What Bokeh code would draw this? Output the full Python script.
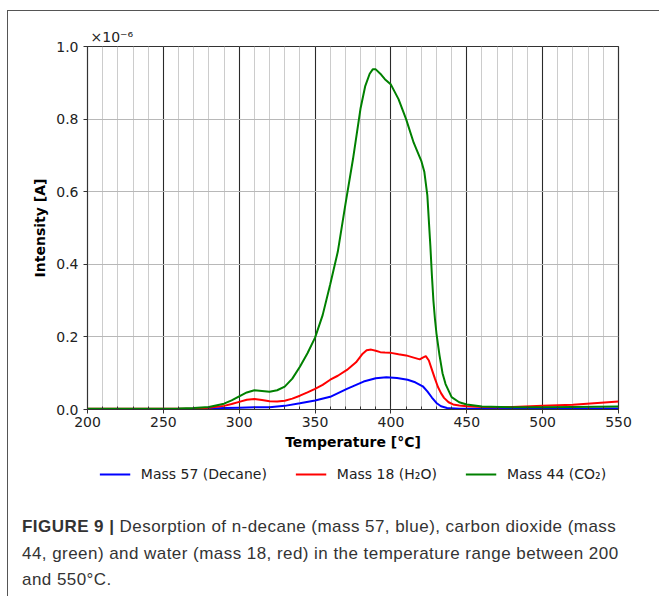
from bokeh.plotting import figure
from bokeh.models import (Legend, LegendItem, FixedTicker, Range1d,
                          NumeralTickFormatter, Div)
from bokeh.layouts import column
from bokeh.embed import file_html
from bokeh.resources import INLINE

# ---- data (intensity in units of 1e-6 A) ----
t_decane = [200, 260, 280, 290, 300, 310, 320, 330, 340, 350, 360, 371, 382, 390,
            397, 404, 411, 416, 421, 424, 427, 430, 433, 437, 445, 460, 500, 550]
i_decane = [0.001, 0.001, 0.002, 0.004, 0.005, 0.006, 0.006, 0.010, 0.017, 0.025,
            0.035, 0.057, 0.077, 0.086, 0.089, 0.087, 0.082, 0.075, 0.064, 0.050,
            0.033, 0.018, 0.009, 0.004, 0.002, 0.002, 0.002, 0.003]

t_water = [200, 240, 260, 270, 280, 290, 295, 300, 305, 310, 315, 320, 325, 330,
           335, 340, 345, 350, 355, 360, 365, 371, 377, 381, 384, 387, 390, 393,
           396, 400, 405, 410, 415, 419, 421, 423, 425, 427, 429, 431, 433, 435,
           438, 441, 445, 450, 460, 470, 480, 500, 520, 550]
i_water = [0.002, 0.002, 0.002, 0.003, 0.005, 0.010, 0.015, 0.021, 0.027, 0.029,
           0.026, 0.023, 0.022, 0.024, 0.030, 0.038, 0.047, 0.057, 0.068, 0.082,
           0.093, 0.109, 0.130, 0.152, 0.163, 0.165, 0.162, 0.158, 0.157, 0.156,
           0.152, 0.149, 0.143, 0.138, 0.143, 0.147, 0.135, 0.110, 0.085, 0.062,
           0.045, 0.032, 0.020, 0.014, 0.011, 0.009, 0.007, 0.006, 0.007, 0.010,
           0.013, 0.022]

t_co2 = [200, 220, 240, 260, 270, 280, 290, 295, 300, 305, 310, 315, 320, 325,
         330, 335, 340, 345, 350, 355, 360, 365, 370, 375, 380, 383, 386, 388,
         390, 393, 396, 400, 405, 410, 415, 418, 420, 422, 424, 426, 427, 428,
         429, 430, 432, 434, 436, 440, 445, 450, 460, 480, 500, 520, 550]
i_co2 = [0.002, 0.002, 0.002, 0.003, 0.004, 0.007, 0.016, 0.025, 0.036, 0.047,
         0.053, 0.051, 0.049, 0.053, 0.063, 0.085, 0.118, 0.155, 0.198, 0.260,
         0.345, 0.435, 0.565, 0.690, 0.830, 0.890, 0.925, 0.937, 0.937, 0.925,
         0.910, 0.895, 0.855, 0.800, 0.735, 0.705, 0.685, 0.655, 0.590, 0.450,
         0.370, 0.300, 0.250, 0.210, 0.150, 0.100, 0.070, 0.034, 0.020, 0.014,
         0.008, 0.006, 0.006, 0.007, 0.008]

series_t = [t_decane, t_water, t_co2]
series_i = [i_decane, i_water, i_co2]
series_labels = ["Mass 57 (Decane)", "Mass 18 (H\u2082O)", "Mass 44 (CO\u2082)"]
series_colors = ["#0000ff", "#ff0000", "#008000"]

x_major = [200, 250, 300, 350, 400, 450, 500, 550]
x_minor = list(range(200, 551, 10))
y_major = [0.0, 0.2, 0.4, 0.6, 0.8, 1.0]

x_title = "Temperature [\u00b0C]"
y_title = "Intensity [A]"
multiplier = "\u00d710\u207b\u2076"
caption_bold = "FIGURE 9 |"
caption_lines = [
    "Desorption of n-decane (mass 57, blue), carbon dioxide (mass",
    "44, green) and water (mass 18, red) in the temperature range between 200",
    "and 550\u00b0C.",
]

FONT = "DejaVu Sans"
W = 651  # content width inside the outer border

# ---------------- main chart ----------------
p = figure(width=W, height=448, output_backend="svg", toolbar_location=None,
           x_range=Range1d(200, 550), y_range=Range1d(0, 1.0),
           min_border_left=79, min_border_right=41, min_border_top=35,
           min_border_bottom=50)
p.background_fill_color = "white"
p.border_fill_color = "white"
p.outline_line_color = "#333333"
p.outline_line_width = 1.2

for t, v, c in zip(series_t, series_i, series_colors):
    p.line(t, v, line_color=c, line_width=2)

p.title.text = multiplier
p.title.text_font = FONT
p.title.text_font_size = "14px"
p.title.text_font_style = "normal"
p.title.text_color = "#222222"
p.title.align = "left"
p.title.offset = 3
p.title.standoff = 3

p.xaxis.ticker = FixedTicker(ticks=x_major, minor_ticks=x_minor)
p.yaxis.ticker = FixedTicker(ticks=y_major, minor_ticks=[])
p.yaxis.formatter = NumeralTickFormatter(format="0.0")
for ax in (p.xaxis[0], p.yaxis[0]):
    ax.major_label_text_font = FONT
    ax.major_label_text_font_size = "14px"
    ax.major_label_text_color = "#222222"
    ax.axis_label_text_font = FONT
    ax.axis_label_text_font_size = "14px"
    ax.axis_label_text_font_style = "bold"
    ax.axis_label_text_color = "#000000"
    ax.axis_line_color = "#333333"
    ax.major_tick_line_color = "#333333"
    ax.major_tick_out = 4
    ax.major_tick_in = 0
p.xaxis.minor_tick_in = 3
p.xaxis.minor_tick_out = 0
p.xaxis.minor_tick_line_color = "#333333"
p.yaxis.minor_tick_line_color = None
p.xaxis.axis_label = x_title
p.yaxis.axis_label = y_title
p.xaxis.major_label_standoff = 3
p.xaxis.axis_label_standoff = 4
p.yaxis.major_label_standoff = 5
p.yaxis.axis_label_standoff = 5

p.xgrid.grid_line_color = "#2a2a2a"
p.xgrid.grid_line_width = 1.1
p.xgrid.minor_grid_line_color = "#cccccc"
p.xgrid.minor_grid_line_width = 1
p.ygrid.grid_line_color = "#b8b8b8"
p.ygrid.grid_line_width = 1.2

# ---------------- legend strip ----------------
# same series drawn out of view (y range far above the data) so that the legend
# has real glyphs to sample from
lg = figure(width=W, height=30, output_backend="svg", toolbar_location=None,
            x_range=Range1d(200, 550), y_range=Range1d(10, 11),
            x_axis_type=None, y_axis_type=None,
            min_border_left=79, min_border_right=41, min_border_top=0,
            min_border_bottom=0)
lg.outline_line_color = None
lg.grid.visible = False
lg.background_fill_color = "white"
lg.border_fill_color = "white"
lrs = [lg.line(t, v, line_color=c, line_width=2)
       for t, v, c in zip(series_t, series_i, series_colors)]
items = [LegendItem(label=lab, renderers=[r]) for lab, r in zip(series_labels, lrs)]
legend = Legend(items=items, orientation="horizontal", location="center")
legend.label_text_font = FONT
legend.label_text_font_size = "14px"
legend.label_text_color = "#222222"
legend.glyph_width = 31
legend.label_standoff = 11
legend.spacing = 28
legend.padding = 0
legend.margin = 0
legend.border_line_color = None
legend.background_fill_alpha = 0
lg.add_layout(legend)

# ---------------- caption ----------------
caption_html = (
    "<b>" + caption_bold + "</b> " + caption_lines[0] + "<br>"
    + caption_lines[1] + "<br>" + caption_lines[2]
)
cap = Div(text=caption_html, width=W, height=107, margin=(0, 0, 0, 0),
          styles={"font-family": "'Liberation Sans', Arial, sans-serif",
                  "font-size": "17px", "line-height": "26.5px",
                  "letter-spacing": "0.45px", "color": "#333333",
                  "padding-left": "14px", "padding-top": "25px",
                  "box-sizing": "border-box"})

layout = column(p, lg, cap, spacing=0,
                styles={"margin-left": "7px", "margin-top": "10px",
                        "border-left": "1px solid #555555",
                        "border-top": "1px solid #555555"})

open("out.html", "w").write(file_html(layout, INLINE))
